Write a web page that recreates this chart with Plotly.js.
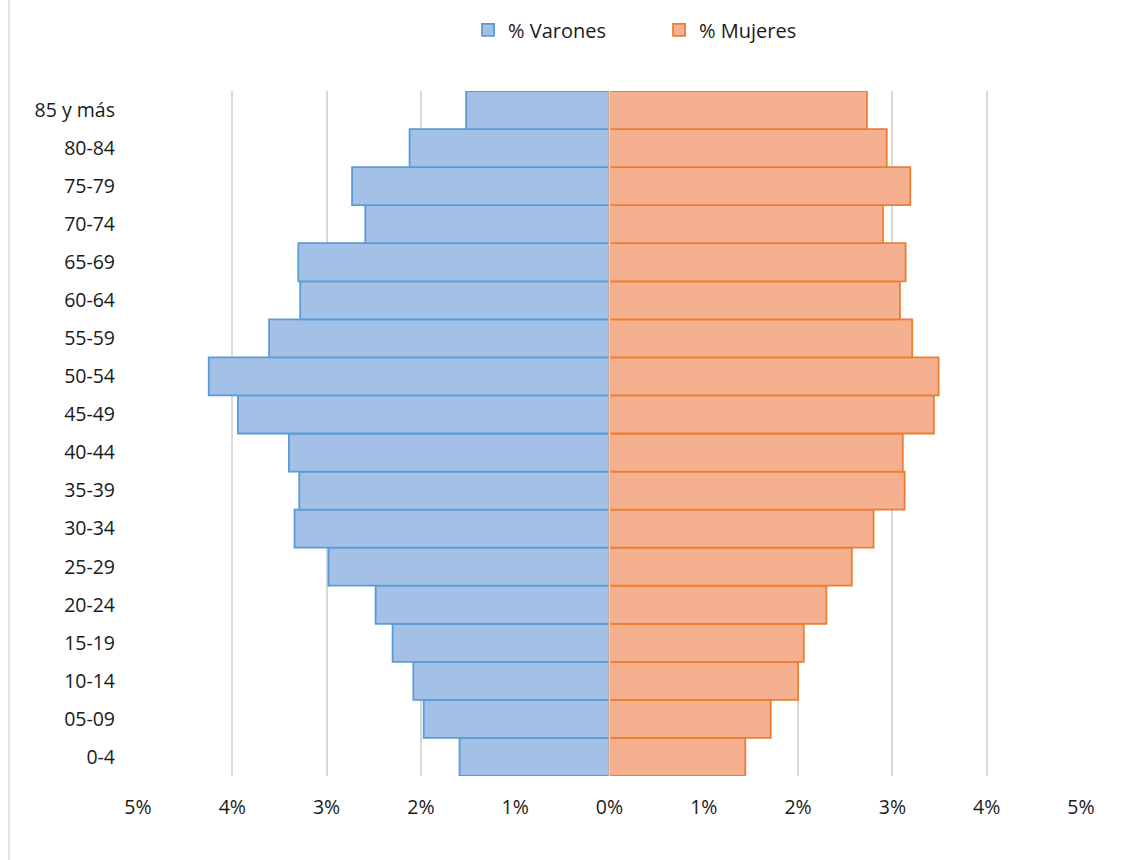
<!DOCTYPE html>
<html><head><meta charset="utf-8">
<script src="https://cdn.plot.ly/plotly-3.0.1.min.js"></script>
<style>html,body{margin:0;padding:0;background:#fff}#chart{width:1131px;height:860px}</style>
</head><body><div id="chart"></div>
<script>
const categories = ["0-4","05-09","10-14","15-19","20-24","25-29","30-34","35-39","40-44","45-49","50-54","55-59","60-64","65-69","70-74","75-79","80-84","85 y más"];
const varones = [1.59,1.97,2.08,2.30,2.48,2.98,3.34,3.29,3.40,3.94,4.25,3.61,3.28,3.30,2.59,2.73,2.12,1.52];
const mujeres = [1.44,1.71,2.00,2.06,2.30,2.57,2.80,3.13,3.11,3.44,3.49,3.21,3.08,3.14,2.90,3.19,2.94,2.73];
const tickVals = [-5,-4,-3,-2,-1,0,1,2,3,4,5];
const tickText = ["5%","4%","3%","2%","1%","0%","1%","2%","3%","4%","5%"];

const font = {family: "Open Sans, Noto Sans, sans-serif", size: 19.5, color: "#1a1a1a"};
const traces = [
  {type:"bar", orientation:"h", name:"% Varones", y:categories, x:varones.map(v=>-v),
   marker:{color:"#a3c1e7", line:{color:"#5b9bd5", width:1.8}}, hoverinfo:"skip"},
  {type:"bar", orientation:"h", name:"% Mujeres", y:categories, x:mujeres,
   marker:{color:"#f5b08f", line:{color:"#ed7d31", width:1.8}}, hoverinfo:"skip"}
];
const layout = {
  width:1131, height:860,
  margin:{l:138, r:50, t:91, b:84},
  paper_bgcolor:"#fff", plot_bgcolor:"#fff",
  font: font,
  barmode:"relative", bargap:0,
  showlegend:true,
  legend:{orientation:"h", x:0.350, xanchor:"left", y:0.988, yref:"container", yanchor:"top",
          font:{size:20, color:"#1a1a1a"}, itemwidth:30, entrywidth:146, entrywidthmode:"pixels", tracegroupgap:0},
  xaxis:{range:[-5,5], tickvals:tickVals, ticktext:tickText, showgrid:true, gridcolor:"#d9d9d9", gridwidth:2,
         zeroline:false, showline:false, ticks:"", ticklabelstandoff:17, fixedrange:true},
  yaxis:{type:"category", categoryorder:"array", categoryarray:categories, showgrid:false, zeroline:false, showline:false,
         ticks:"", ticklabelstandoff:22, fixedrange:true},
  shapes:[
    {type:"line", xref:"paper", yref:"paper", x0:-0.1368, x1:-0.1368, y0:-0.13, y1:1.15, line:{color:"#d9d9d9", width:1.5}},
    {type:"line", xref:"x", yref:"paper", x0:0, x1:0, y0:0, y1:1, layer:"above", line:{color:"#d9d9d9", width:1.5}}
  ]
};
Plotly.newPlot("chart", traces, layout, {displayModeBar:false, staticPlot:true});
</script></body></html>
